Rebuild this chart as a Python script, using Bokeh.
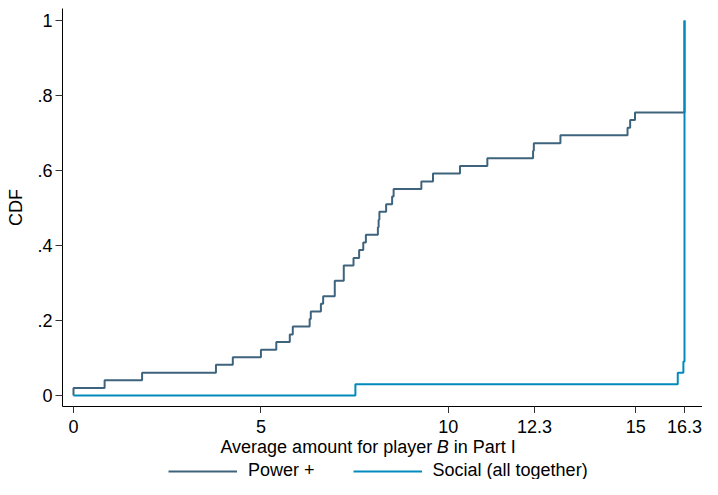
import numpy as np
from bokeh.plotting import figure
from bokeh.models import Range1d, FixedTicker, Legend, LegendItem
from bokeh.core.properties import value
from bokeh.layouts import column
from bokeh.embed import file_html
from bokeh.resources import INLINE

# ---- data ----
power_x = [0.0, 0.0, 0.83, 1.83, 3.80, 4.25, 5.00, 5.41, 5.77, 5.85, 6.30, 6.33,
           6.60, 6.66, 6.97, 7.21, 7.47, 7.62, 7.73, 7.80, 8.12, 8.14, 8.16,
           8.34, 8.50, 8.54, 9.28, 9.59, 10.31, 11.04, 12.26, 12.28, 12.99,
           14.78, 14.85, 14.98, 16.30]
power_cdf = [0.0, 0.020, 0.041, 0.061, 0.082, 0.102, 0.122, 0.143, 0.163, 0.184,
             0.204, 0.224, 0.245, 0.265, 0.306, 0.347, 0.367, 0.388, 0.408,
             0.429, 0.449, 0.469, 0.490, 0.510, 0.531, 0.551, 0.571, 0.592,
             0.612, 0.633, 0.653, 0.673, 0.694, 0.714, 0.735, 0.755, 1.0]

social_x = [0.0, 7.52, 16.12, 16.27, 16.30]
social_cdf = [0.0, 0.030, 0.061, 0.091, 1.0]

x_ticks = [0, 5, 10, 12.3, 15, 16.3]
x_tick_labels = ["0", "5", "10", "12.3", "15", "16.3"]
y_ticks = [0, 0.2, 0.4, 0.6, 0.8, 1.0]
y_tick_labels = ["0", ".2", ".4", ".6", ".8", "1"]

series_names = ["Power +", "Social (all together)"]
series_colors = ["#3E647D", "#008BBC"]
x_title_parts = ["Average amount for player", "B", "in Part I"]
x_title_pos = [9.569, 9.852, 10.146]

FONT = "Liberation Sans"
FS = "18px"

W = 702
H_TOP = 413          # plot frame + outward tick marks
H_BOT = 479 - H_TOP  # tick labels, axis title, legend

xr = Range1d(-0.2935, 16.78)

p = figure(width=W, height=H_TOP, output_backend="svg", toolbar_location=None,
           x_range=xr, y_range=Range1d(-0.0293, 1.032),
           min_border_left=62, min_border_right=0, min_border_top=8,
           min_border_bottom=7)
p.outline_line_color = None
p.grid.visible = False

r1 = p.step(power_x, power_cdf, mode="after", line_color=series_colors[0], line_width=2)
r2 = p.step(social_x, social_cdf, mode="after", line_color=series_colors[1], line_width=2)

for ax in (p.xaxis[0], p.yaxis[0]):
    ax.axis_line_color = "black"
    ax.axis_line_width = 1
    ax.major_tick_line_color = "#333333"
    ax.major_tick_line_width = 1
    ax.major_tick_out = 7
    ax.major_tick_in = 0
    ax.minor_tick_line_color = None
    ax.major_label_text_font = FONT
    ax.major_label_text_font_size = FS
    ax.major_label_text_color = "black"

p.xaxis[0].ticker = FixedTicker(ticks=x_ticks)
p.xaxis[0].major_label_overrides = {t: "" for t in x_ticks}
p.xaxis[0].major_label_text_font_size = "0px"
p.xaxis[0].major_label_standoff = 0

p.yaxis[0].ticker = FixedTicker(ticks=y_ticks)
p.yaxis[0].major_label_overrides = {t: l for t, l in zip(y_ticks, y_tick_labels)}
p.yaxis[0].major_label_standoff = 3
p.yaxis[0].axis_label = "CDF"
p.yaxis[0].axis_label_text_font = FONT
p.yaxis[0].axis_label_text_font_size = FS
p.yaxis[0].axis_label_text_font_style = "normal"
p.yaxis[0].axis_label_text_color = "black"
p.yaxis[0].axis_label_standoff = 8

# ---- bottom strip: x tick labels, x-axis title (italic B) and legend ----
p2 = figure(width=W, height=H_BOT, output_backend="svg", toolbar_location=None,
            x_range=xr, y_range=Range1d(0, H_BOT),
            x_axis_type=None, y_axis_type=None,
            min_border_left=62, min_border_right=0, min_border_top=0,
            min_border_bottom=0)
p2.outline_line_color = None
p2.grid.visible = False

common = dict(text_font=value(FONT), text_font_size=value(FS), text_color="black",
              text_baseline="alphabetic")
# tick labels
p2.text(x=x_ticks, y=[H_BOT - 13.0] * len(x_ticks), text=x_tick_labels,
        text_align="center", **common)
# axis title
ty = H_BOT - 33.5
p2.text(x=[x_title_pos[0]], y=[ty], text=[x_title_parts[0]], text_align="right", **common)
p2.text(x=[x_title_pos[1]], y=[ty], text=[x_title_parts[1]], text_align="center",
        text_font_style="italic", **common)
p2.text(x=[x_title_pos[2]], y=[ty], text=[x_title_parts[2]], text_align="left", **common)

# legend (proxy renderers carry only the line style)
l1 = p2.line(x=[np.nan], y=[np.nan], line_color=series_colors[0], line_width=2)
l2 = p2.line(x=[np.nan], y=[np.nan], line_color=series_colors[1], line_width=2)
legend = Legend(items=[LegendItem(label=series_names[0], renderers=[l1]),
                       LegendItem(label=series_names[1], renderers=[l2])],
                location=(106, -2), orientation="horizontal",
                glyph_width=69, glyph_height=16, label_standoff=11, spacing=38,
                label_height=16,
                padding=0, margin=0, border_line_color=None,
                background_fill_alpha=0,
                label_text_font=FONT, label_text_font_size=FS,
                label_text_color="black")
p2.add_layout(legend, "center")

layout = column(p, p2, spacing=0)
open("out.html", "w").write(file_html(layout, INLINE))
